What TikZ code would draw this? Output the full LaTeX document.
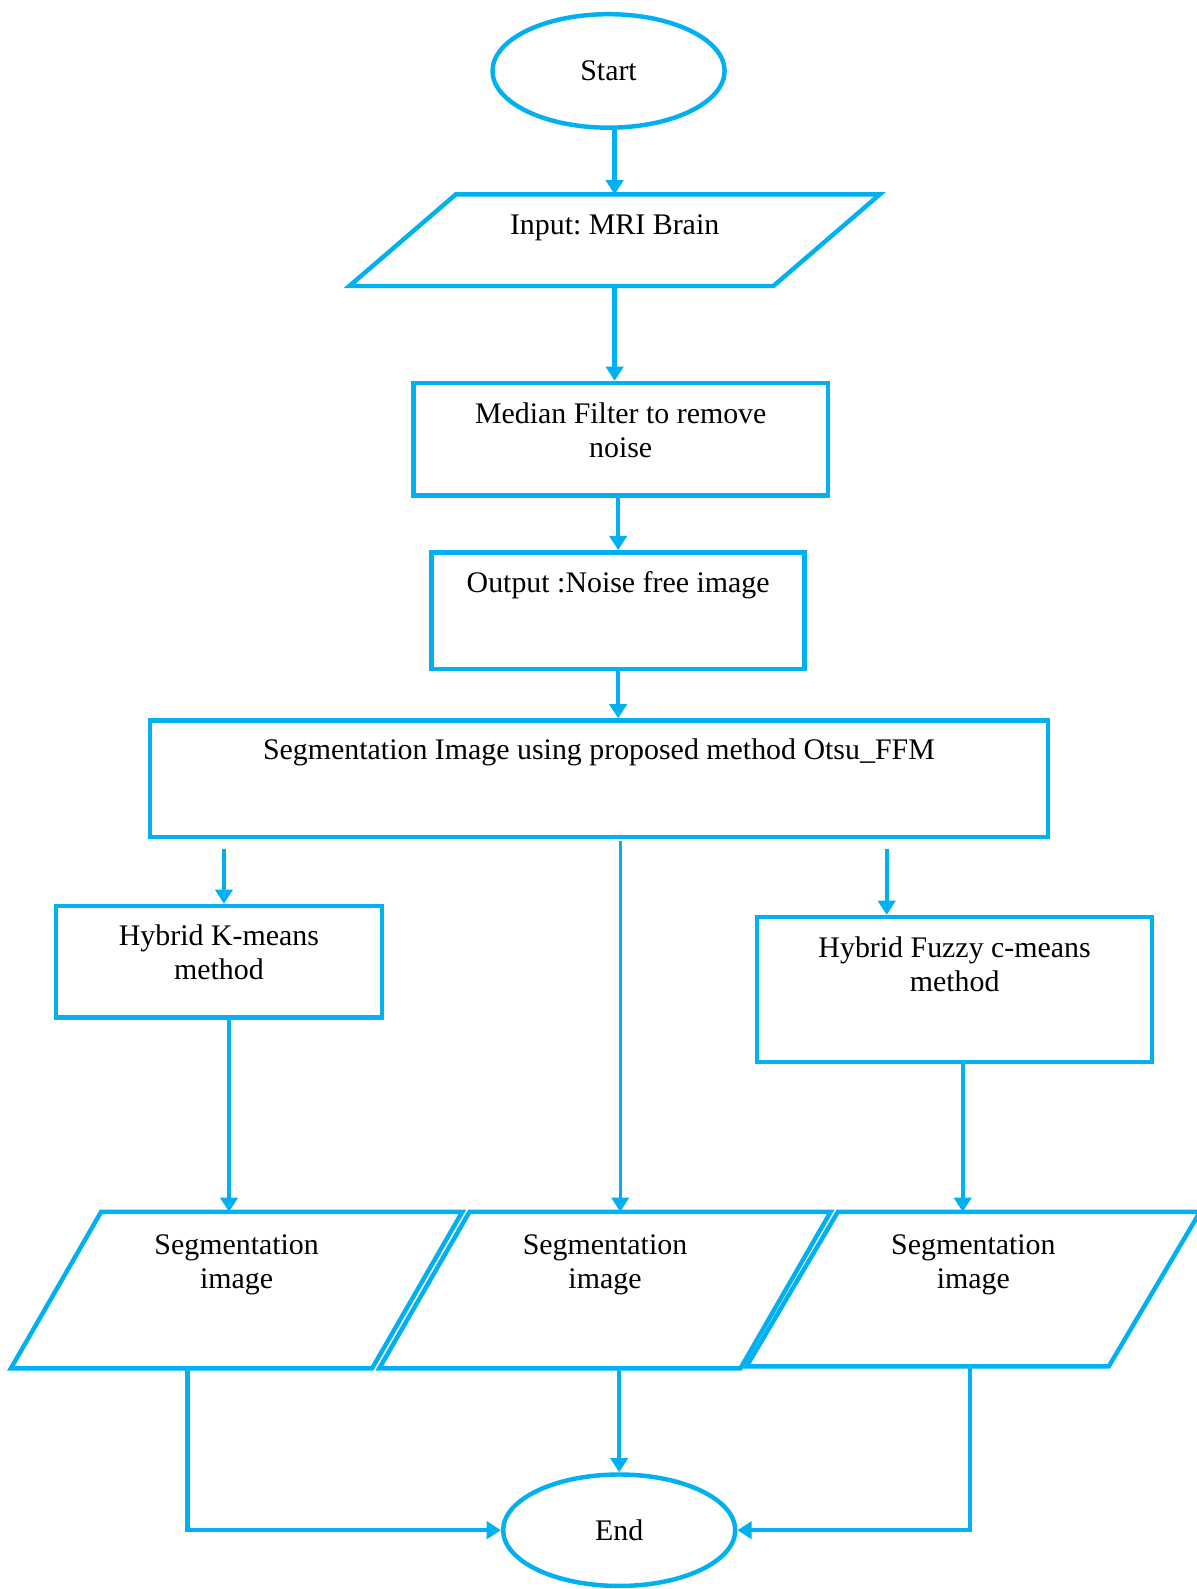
\documentclass[tikz,border=0pt]{standalone}
\usepackage{fontspec}
\setmainfont{Liberation Serif}
\frenchspacing
\usetikzlibrary{shapes.geometric,arrows.meta,positioning,calc}
\definecolor{flowblue}{RGB}{0,176,240}

\tikzset{
  line/.style={draw=flowblue, line width=4.4pt},
  arr/.style={draw=flowblue, line width=4.4pt, -{Triangle[width=17pt,length=14pt]}},
  terminal/.style={ellipse, line, inner sep=0pt, minimum width=229pt, minimum height=112pt, font=\fontsize{29.5}{34}\selectfont},
  box/.style={rectangle, line, inner sep=0pt},
  iobox/.style={rectangle, inner sep=0pt},
  txt/.style={inner sep=0pt, align=center, font=\fontsize{29.5}{33.5}\selectfont},
}

\begin{document}
\begin{tikzpicture}[x=1pt,y=-1pt]
\useasboundingbox (0,0) rectangle (1181,1568);
\newcommand{\Slants}{inp/52.5,segA/44.5,segB/44.5,segC/45}

% boxes
\node[terminal] (start) at (600.5,70) {Start};
\node[iobox, minimum width=418pt, minimum height=90pt] (inp) at (606.5,237) {};
\node[box, minimum width=409pt, minimum height=111pt] (med) at (612.5,433.5) {};
\node[box, minimum width=368pt, minimum height=115pt] (outp) at (610,602.5) {};
\node[box, minimum width=886pt, minimum height=115pt] (seg) at (591,768.5) {};
\node[box, minimum width=322pt, minimum height=110pt] (km) at (216,949) {};
\node[box, minimum width=390pt, minimum height=143pt] (fcm) at (942,976.5) {};
\node[iobox, minimum width=356pt, minimum height=154pt] (segA) at (233.5,1273) {};
\node[iobox, minimum width=356pt, minimum height=154pt] (segB) at (597,1273) {};
\node[iobox, minimum width=357pt, minimum height=152pt] (segC) at (960.5,1272) {};
\node[terminal, minimum height=110pt] (end) at (611,1510) {End};

% the slanted in/out boxes
\foreach \n/\s in \Slants{\draw[line] ([xshift=\s]\n.north west) -- ([xshift=\s]\n.north east) -- ([xshift=-\s]\n.south east) -- ([xshift=-\s]\n.south west) -- cycle;}

% texts
\node[txt, below=20pt of inp.north] (inptxt) {Input: MRI Brain};
\node[txt, below=21pt of med.north] (medtxt) {Median Filter to remove\\noise};
\node[txt, below=21pt of outp.north] (outptxt) {Output :Noise free image};
\node[txt, below=20pt of seg.north] (segtxt) {Segmentation Image using proposed method Otsu\_FFM};
\node[txt, below=21pt of km.north] (kmtxt) {Hybrid K-means\\method};
\node[txt, below=21pt of fcm.north] (fcmtxt) {Hybrid Fuzzy c-means\\method};
\foreach \n in {segA,segB,segC}{\node[txt, below=22pt of \n.north] (\n txt) {Segmentation\\image};}

% connectors
\draw[arr] (start.south -| inp.north) -- (inp.north);
\draw[arr] (inp.south) -- (inp.south |- med.north);
\draw[arr] (med.south -| outp.north) -- (outp.north);
\draw[arr] (outp.south) -- (outp.south |- seg.north);
\coordinate (kmin) at (221,838);
\draw[arr] (kmin) -- (kmin |- km.north);
\coordinate (fcmin) at (875,838);
\draw[arr] (fcmin) -- (fcmin |- fcm.north);
\coordinate (midin) at (612,830);
\draw[arr, line width=3.2pt] (midin) -- (midin |- segB.north);
\coordinate (kmout) at ($(km.south)+(10,0)$);
\draw[arr] (kmout) -- (kmout |- segA.north);
\coordinate (fcmout) at ($(fcm.south)+(8,0)$);
\draw[arr] (fcmout) -- (fcmout |- segC.north);
\draw[arr] (segB.south -| end.north) -- (end.north);
\coordinate (aout) at (185,1350);
\draw[arr] (aout) |- (end.west);
\coordinate (cout) at (957,1349);
\draw[arr] (cout) |- (end.east);
\end{tikzpicture}
\end{document}
